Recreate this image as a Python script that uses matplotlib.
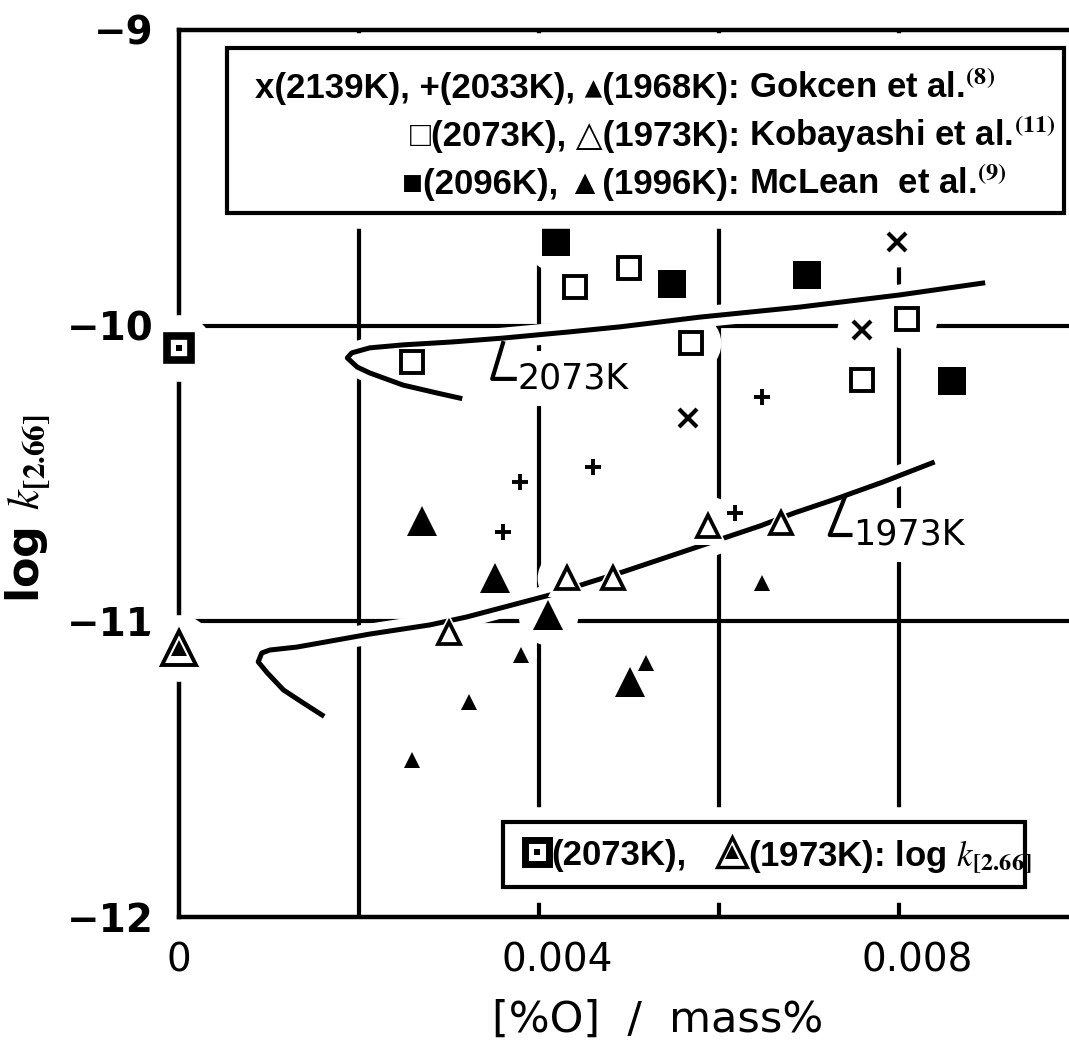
import matplotlib
matplotlib.use("Agg")
import matplotlib.pyplot as plt
import matplotlib.patheffects as pe
from matplotlib.patches import Rectangle
from matplotlib.transforms import ScaledTranslation

plt.rcParams["mathtext.fontset"] = "stix"
plt.rcParams["font.family"] = ["DejaVu Sans"]

# Gokcen et al.
gok_2139_x = [0.00798, 0.00759, 0.00566]
gok_2139_y = [-9.717, -10.015, -10.312]
gok_2033_x = [0.00648, 0.00460, 0.00379, 0.00360, 0.00618]
gok_2033_y = [-10.241, -10.478, -10.529, -10.698, -10.633]
gok_1968_x = [0.00380, 0.00322, 0.00259, 0.00519, 0.00648]
gok_1968_y = [-11.114, -11.273, -11.469, -11.141, -10.870]

# Kobayashi et al.
kob_2073_x = [0.00259, 0.00440, 0.00500, 0.00569, 0.00809, 0.00759]
kob_2073_y = [-10.123, -9.869, -9.805, -10.058, -9.977, -10.184]
kob_1973_x = [0.00300, 0.00431, 0.00482, 0.00588, 0.00669]
kob_1973_y = [-11.039, -10.853, -10.853, -10.677, -10.667]

# McLean et al.
mcl_2096_x = [0.00419, 0.00548, 0.00698, 0.00859]
mcl_2096_y = [-9.717, -9.859, -9.829, -10.187]
mcl_1996_x = [0.00270, 0.00351, 0.00410, 0.00501]
mcl_1996_y = [-10.660, -10.853, -10.978, -11.205]

# log k[2.66] at [%O] = 0
k266_x = [0.0, 0.0]
k266_y = [-10.075, -11.090]

# calculated curves
c2073_x = [0.00312, 0.00287, 0.00249, 0.00212, 0.00198, 0.00187, 0.00192, 0.00212, 0.00249,
           0.00304, 0.00360, 0.00434, 0.00490, 0.00579, 0.00690, 0.00801, 0.00893]
c2073_y = [-10.245, -10.228, -10.201, -10.160, -10.140, -10.109, -10.092, -10.075, -10.065,
           -10.055, -10.042, -10.021, -10.004, -9.971, -9.937, -9.896, -9.856]
c1973_x = [0.00159, 0.00138, 0.00116, 0.00098, 0.00088, 0.00092, 0.00101, 0.00131, 0.00157,
           0.00212, 0.00279, 0.00320, 0.00412, 0.00454, 0.00493, 0.00646, 0.00684, 0.00727,
           0.00782, 0.00837]
c1973_y = [-11.317, -11.276, -11.232, -11.174, -11.137, -11.107, -11.097, -11.087, -11.073,
           -11.043, -11.012, -10.985, -10.911, -10.870, -10.833, -10.677, -10.633, -10.589,
           -10.529, -10.464]

# label leaders for the curves
lead2073_x = [0.00360, 0.00348, 0.00373]
lead2073_y = [-10.059, -10.180, -10.180]
lead1973_x = [0.00740, 0.00723, 0.00746]
lead1973_y = [-10.579, -10.708, -10.708]

grid_x = [0.002, 0.004, 0.006, 0.008]
grid_y = [-10, -11]
xtick_vals = [0, 0.004, 0.008]
xtick_text = ["0", "0.004", "0.008"]
ytick_vals = [-9, -10, -11, -12]
ytick_text = ["\u22129", "\u221210", "\u221211", "\u221212"]

legend_left = ["x(2139K), +(2033K), \u25b4(1968K):",
               "\u25a1(2073K), \u25b3(1973K):",
               "\u25a0(2096K), \u25b2(1996K):"]
legend_refs = ["Gokcen et al.$^{\\mathbf{(8)}}$",
               "Kobayashi et al.$^{\\mathbf{(11)}}$",
               "McLean  et al.$^{\\mathbf{(9)}}$"]
leg_font = ["Liberation Sans", "DejaVu Sans"]

fig = plt.figure(figsize=(10.69, 10.54), dpi=100)
ax = fig.add_axes([179 / 1069, 137 / 1054, 900 / 1069, 887 / 1054])
ax.set_xlim(0, 0.010)
ax.set_ylim(-12, -9)

for sp in ax.spines.values():
    sp.set_linewidth(3.2)
    sp.set_zorder(1)
for gx in grid_x:
    ax.axvline(gx, color="black", lw=3.0, zorder=1)
for gy in grid_y:
    ax.axhline(gy, color="black", lw=3.0, zorder=1)

ax.set_xticks(xtick_vals)
ax.set_xticklabels(xtick_text)
ax.set_yticks(ytick_vals)
ax.set_yticklabels(ytick_text)
ax.tick_params(length=0, labelsize=28, pad=18)
for lbl in ax.get_yticklabels():
    lbl.set_fontweight("bold")
shift = ScaledTranslation(18 / 100, 0, fig.dpi_scale_trans)
for lbl in ax.get_xticklabels()[1:]:
    lbl.set_transform(lbl.get_transform() + shift)

ax.set_xlabel("[%O]  /  mass%", fontsize=31)
ax.xaxis.set_label_coords(0.532, -0.092)
ax.set_ylabel(r"log $\mathbf{\mathit{k}}_{\mathbf{[2.66]}}$", fontsize=32, fontweight="bold")
ax.yaxis.set_label_coords(-0.14, 0.46)


def plot_points(xs, ys, halo, **style):
    # white disc underneath so grid lines break around the symbol
    ax.plot(xs, ys, ls="none", marker="o", ms=halo, mfc="white", mec="white",
            mew=0, zorder=2, clip_on=False)
    ax.plot(xs, ys, ls="none", zorder=4, clip_on=False, **style)


halo_line = [pe.withStroke(linewidth=15, foreground="white")]
ax.plot(c2073_x, c2073_y, color="black", lw=3.6, zorder=3, path_effects=halo_line)
ax.plot(c1973_x, c1973_y, color="black", lw=3.6, zorder=3, path_effects=halo_line)
ax.plot(lead2073_x, lead2073_y, color="black", lw=3.0, zorder=3.2)
ax.plot(lead1973_x, lead1973_y, color="black", lw=3.0, zorder=3.2)
label_box = dict(boxstyle="square,pad=0.3", fc="white", ec="none")
ax.text(lead2073_x[-1] + 0.00003, lead2073_y[-1], "2073K", fontsize=25,
        ha="left", va="center", zorder=2.6, bbox=label_box)
ax.text(lead1973_x[-1] + 0.00003, lead1973_y[-1], "1973K", fontsize=25,
        ha="left", va="center", zorder=2.6, bbox=label_box)

plot_points(gok_2139_x, gok_2139_y, 36, marker="x", ms=13, mew=3.0, color="black")
plot_points(gok_2033_x, gok_2033_y, 22, marker="+", ms=11, mew=2.8, color="black")
plot_points(gok_1968_x, gok_1968_y, 22, marker="^", ms=12, color="black", mew=0)
plot_points(kob_2073_x, kob_2073_y, 43, marker="s", ms=16, mfc="white", mec="black", mew=2.8)
# open triangles also cut the 1973K curve where it passes through them
ax.plot(kob_1973_x, kob_1973_y, ls="none", marker="^", ms=28, mfc="white", mec="white",
        mew=0, zorder=3.5)
plot_points(kob_1973_x, kob_1973_y, 43, marker="^", ms=16, mfc="white", mec="black", mew=2.7)
plot_points(mcl_2096_x, mcl_2096_y, 43, marker="s", ms=20, color="black", mew=0)
plot_points(mcl_1996_x, mcl_1996_y, 43, marker="^", ms=21, color="black", mew=0)

# log k[2.66] symbols on the ordinate
plot_points(k266_x, k266_y, 48, marker="o", ms=0)
ax.plot(k266_x[0], k266_y[0], marker="s", ms=17.5, mfc="white", mec="black", mew=5.5,
        zorder=4, clip_on=False)
ax.plot(k266_x[0], k266_y[0], marker="s", ms=4, color="black", mew=0, zorder=5, clip_on=False)
ax.plot(k266_x[1], k266_y[1], marker="^", ms=24, mfc="white", mec="black", mew=2.8,
        zorder=4, clip_on=False)
ax.plot(k266_x[1], k266_y[1], marker="^", ms=11, color="black", mew=0, zorder=5, clip_on=False)

# upper key
box_halo = [pe.withStroke(linewidth=22, foreground="white")]
top_box = Rectangle((0.053, 0.794), 0.930, 0.186, transform=ax.transAxes, fc="white",
                    ec="black", lw=3.0, zorder=5, path_effects=box_halo)
ax.add_patch(top_box)
for row_y, left, ref in zip([0.923, 0.869, 0.815], legend_left, legend_refs):
    ax.text(0.623, row_y, left, transform=ax.transAxes, ha="right", va="baseline",
            fontsize=25, fontweight="bold", family=leg_font, zorder=6)
    ax.text(0.633, row_y, ref, transform=ax.transAxes, ha="left", va="baseline",
            fontsize=25, fontweight="bold", family=leg_font, zorder=6)

# lower key
bot_box = Rectangle((0.360, 0.034), 0.580, 0.073, transform=ax.transAxes, fc="white",
                    ec="black", lw=3.0, zorder=5, path_effects=box_halo)
ax.add_patch(bot_box)
ax.plot(0.398, 0.0733, marker="s", ms=17, mfc="white", mec="black", mew=5,
        transform=ax.transAxes, zorder=6, clip_on=False)
ax.plot(0.398, 0.0733, marker="s", ms=4, color="black", mew=0,
        transform=ax.transAxes, zorder=7, clip_on=False)
ax.plot(0.614, 0.0733, marker="^", ms=22, mfc="white", mec="black", mew=2.4,
        transform=ax.transAxes, zorder=6, clip_on=False)
ax.plot(0.614, 0.0733, marker="^", ms=10, color="black", mew=0,
        transform=ax.transAxes, zorder=7, clip_on=False)
ax.text(0.414, 0.0586, "(2073K),", transform=ax.transAxes, ha="left", va="baseline",
        fontsize=25, fontweight="bold", family=leg_font, zorder=6)
ax.text(0.632, 0.0586, r"(1973K): log $\mathbf{\mathit{k}}_{\mathbf{[2.66]}}$",
        transform=ax.transAxes, ha="left", va="baseline", fontsize=25, fontweight="bold",
        family=leg_font, zorder=6)

fig.savefig("out.png", dpi=100)
